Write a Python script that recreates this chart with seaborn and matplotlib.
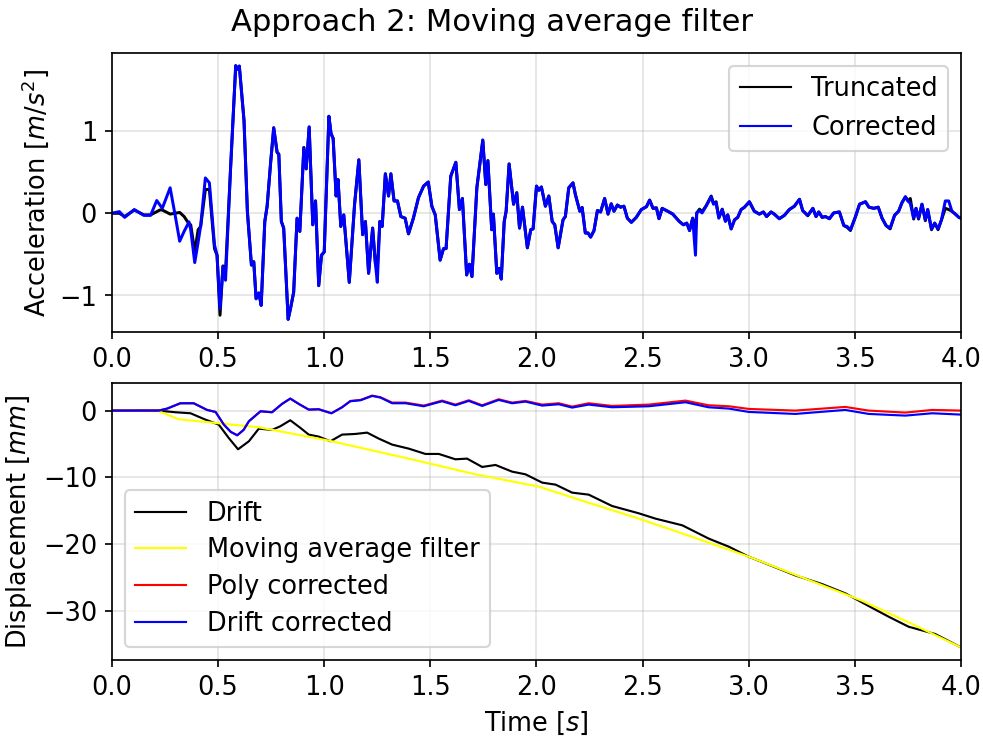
import matplotlib
matplotlib.use("Agg")
import matplotlib.pyplot as plt
import seaborn as sns

# ---------------- acceleration record (m/s^2) ----------------
acc_time = [
    0.000, 0.035, 0.060, 0.105, 0.150, 0.182, 0.211, 0.226, 0.237, 0.252,
    0.274, 0.296, 0.319, 0.340, 0.363, 0.371, 0.390, 0.406, 0.418, 0.440,
    0.459, 0.483, 0.495, 0.509, 0.523, 0.535, 0.559, 0.583, 0.592, 0.600,
    0.622, 0.638, 0.657, 0.668, 0.679, 0.692, 0.703, 0.720, 0.731, 0.747,
    0.762, 0.778, 0.786, 0.798, 0.809, 0.830, 0.841, 0.856, 0.872, 0.885,
    0.904, 0.915, 0.929, 0.946, 0.959, 0.974, 0.987, 1.000, 1.022, 1.032,
    1.042, 1.056, 1.065, 1.078, 1.092, 1.118, 1.143, 1.163, 1.181, 1.194,
    1.209, 1.228, 1.241, 1.250, 1.262, 1.273, 1.288, 1.303, 1.314, 1.329,
    1.345, 1.361, 1.381, 1.397, 1.420, 1.444, 1.468, 1.490, 1.507, 1.523,
    1.546, 1.562, 1.574, 1.596, 1.620, 1.637, 1.651, 1.671, 1.684, 1.696,
    1.719, 1.747, 1.761, 1.771, 1.789, 1.797, 1.813, 1.824, 1.834, 1.848,
    1.857, 1.871, 1.892, 1.907, 1.920, 1.934, 1.957, 1.973, 1.984, 2.000,
    2.011, 2.023, 2.042, 2.058, 2.074, 2.086, 2.102, 2.125, 2.136, 2.152,
    2.172, 2.183, 2.204, 2.215, 2.230, 2.243, 2.255, 2.271, 2.287, 2.302,
    2.321, 2.337, 2.352, 2.365, 2.381, 2.396, 2.412, 2.428, 2.447, 2.470,
    2.494, 2.518, 2.533, 2.549, 2.565, 2.577, 2.592, 2.618, 2.642, 2.673,
    2.692, 2.708, 2.721, 2.736, 2.749, 2.755, 2.768, 2.780, 2.799, 2.823,
    2.834, 2.846, 2.859, 2.875, 2.890, 2.901, 2.917, 2.933, 2.948, 2.964,
    2.980, 3.003, 3.026, 3.050, 3.069, 3.084, 3.105, 3.120, 3.144, 3.168,
    3.191, 3.215, 3.239, 3.254, 3.278, 3.302, 3.317, 3.330, 3.346, 3.361,
    3.380, 3.400, 3.427, 3.448, 3.463, 3.479, 3.503, 3.522, 3.550, 3.566,
    3.589, 3.610, 3.628, 3.647, 3.666, 3.687, 3.706, 3.722, 3.738, 3.750,
    3.761, 3.777, 3.788, 3.800, 3.816, 3.832, 3.843, 3.861, 3.876, 3.892,
    3.908, 3.926, 3.942, 3.957, 3.973, 3.990, 4.000,
]

acc_truncated = [
    0.00, 0.00, -0.04, 0.04, -0.02, -0.02, 0.02, 0.04, 0.04, 0.02,
    -0.01, 0.00, 0.01, -0.04, -0.13, -0.14, -0.47, -0.20, -0.16, 0.29,
    0.29, -0.43, -0.51, -1.24, -0.64, -0.71, 0.56, 1.795, 1.75, 1.79,
    1.13, 0.02, -0.63, -0.59, -1.04, -0.97, -1.12, -0.10, 0.086, 0.60,
    1.04, 0.74, 0.72, -0.10, -0.18, -1.29, -1.16, -0.96, -0.06, -0.22,
    0.80, 0.54, 1.05, -0.14, 0.15, -0.88, -0.51, -0.47, 1.18, 0.97,
    0.91, 0.21, 0.41, -0.16, -0.02, -0.84, 0.11, 0.65, -0.26, -0.10,
    -0.73, -0.18, -0.61, -0.67, -0.10, -0.16, 0.48, 0.21, 0.48, 0.15,
    0.15, -0.04, -0.06, -0.25, -0.06, 0.19, 0.33, 0.38, 0.086, -0.02,
    -0.57, -0.43, -0.43, 0.45, 0.62, 0.045, 0.18, -0.75, -0.62, -0.77,
    0.31, 0.89, 0.35, 0.64, -0.20, -0.01, -0.73, -0.67, -0.80, -0.10,
    0.025, 0.60, 0.11, 0.25, -0.18, 0.074, -0.42, -0.20, -0.19, 0.33,
    0.28, 0.32, 0.086, 0.21, -0.10, -0.14, -0.42, -0.08, -0.04, 0.31,
    0.37, 0.23, 0.025, 0.07, -0.24, -0.24, -0.29, -0.21, 0.033, 0.016,
    0.18, -0.01, 0.115, 0.025, 0.10, 0.074, 0.086, -0.06, -0.11, -0.05,
    0.045, 0.08, 0.16, 0.06, 0.066, -0.066, 0.06, 0.025, -0.01, -0.10,
    -0.14, -0.12, -0.21, -0.06, -0.20, 0.004, 0.05, 0.02, 0.09, 0.21,
    0.12, 0.14, -0.05, 0.05, -0.09, -0.02, -0.19, -0.08, -0.05, 0.045,
    0.074, 0.14, 0.025, -0.01, 0.016, -0.04, 0.016, -0.01, -0.066, -0.025,
    0.045, 0.086, 0.17, 0.033, -0.03, 0.06, -0.04, 0.016, -0.05, -0.04,
    -0.066, 0.004, 0.016, -0.15, -0.17, -0.21, -0.04, 0.11, 0.14, 0.074,
    0.06, 0.074, -0.06, -0.15, -0.19, -0.025, 0.025, 0.13, 0.20, 0.15,
    0.18, -0.07, 0.06, -0.07, 0.11, -0.09, 0.045, -0.20, -0.12, -0.20,
    -0.08, 0.06, 0.045, 0.025, -0.01, -0.05, -0.06,
]

acc_corrected = [
    0.00, 0.02, -0.05, 0.045, -0.025, -0.025, 0.155, 0.10, 0.06, 0.16,
    0.31, 0.00, -0.34, -0.22, -0.105, -0.20, -0.60, -0.35, -0.15, 0.43,
    0.37, -0.385, -0.51, -1.16, -0.65, -0.815, 0.56, 1.795, 1.75, 1.79,
    1.13, 0.02, -0.63, -0.59, -1.04, -0.97, -1.12, -0.10, 0.086, 0.60,
    1.04, 0.74, 0.72, -0.10, -0.18, -1.29, -1.16, -0.96, -0.06, -0.22,
    0.80, 0.54, 1.05, -0.14, 0.15, -0.88, -0.51, -0.47, 1.18, 0.97,
    0.91, 0.21, 0.41, -0.16, -0.02, -0.84, 0.11, 0.65, -0.26, -0.10,
    -0.73, -0.18, -0.61, -0.84, -0.10, -0.16, 0.48, 0.21, 0.48, 0.15,
    0.15, -0.04, -0.06, -0.25, -0.06, 0.19, 0.33, 0.38, 0.086, -0.02,
    -0.57, -0.43, -0.43, 0.45, 0.62, 0.045, 0.18, -0.75, -0.62, -0.77,
    0.31, 0.89, 0.35, 0.64, -0.20, -0.01, -0.73, -0.67, -0.80, -0.10,
    0.025, 0.60, 0.11, 0.25, -0.18, 0.074, -0.42, -0.20, -0.19, 0.33,
    0.28, 0.32, 0.086, 0.21, -0.10, -0.14, -0.42, -0.08, -0.04, 0.31,
    0.37, 0.23, 0.025, 0.07, -0.24, -0.24, -0.29, -0.21, 0.033, 0.016,
    0.18, -0.01, 0.115, 0.025, 0.10, 0.074, 0.086, -0.06, -0.11, -0.05,
    0.045, 0.08, 0.16, 0.06, 0.066, -0.066, 0.06, 0.025, -0.01, -0.10,
    -0.14, -0.12, -0.21, -0.06, -0.51, 0.004, 0.033, 0.004, 0.086, 0.20,
    0.11, 0.13, -0.06, 0.045, -0.10, -0.02, -0.19, -0.08, -0.05, 0.045,
    0.074, 0.14, 0.025, -0.01, 0.016, -0.04, 0.016, -0.01, -0.066, -0.025,
    0.045, 0.086, 0.17, 0.033, -0.025, 0.06, -0.04, 0.016, -0.05, -0.04,
    -0.066, 0.004, 0.016, -0.15, -0.16, -0.20, -0.04, 0.11, 0.14, 0.074,
    0.06, 0.074, -0.06, -0.15, -0.18, -0.025, 0.025, 0.13, 0.20, 0.15,
    0.12, -0.06, 0.06, -0.06, 0.11, -0.08, 0.045, -0.19, -0.12, -0.19,
    -0.08, 0.15, 0.15, 0.025, -0.01, -0.05, -0.06,
]

# ---------------- displacement (mm) ----------------
drift_time = [
    0.000, 0.220, 0.299, 0.370, 0.440, 0.503, 0.550, 0.594, 0.645, 0.692,
    0.754, 0.793, 0.840, 0.888, 0.927, 0.974, 1.029, 1.084, 1.147, 1.202,
    1.257, 1.320, 1.398, 1.477, 1.540, 1.618, 1.673, 1.744, 1.807, 1.885,
    1.948, 2.027, 2.090, 2.168, 2.246, 2.356, 2.482, 2.561, 2.687, 2.812,
    2.906, 3.000, 3.219, 3.345, 3.455, 3.565, 3.659, 3.753, 3.879, 4.000,
]
drift = [
    0.0, 0.0, -0.25, -0.4, -1.35, -2.1, -4.1, -5.8, -4.6, -2.7,
    -2.9, -2.35, -1.45, -2.6, -3.6, -3.9, -4.6, -3.6, -3.5, -3.3,
    -4.2, -5.1, -5.7, -6.5, -6.5, -7.3, -7.2, -8.45, -8.15, -9.15,
    -9.55, -10.8, -11.1, -12.3, -12.6, -14.3, -15.4, -16.2, -17.2, -19.2,
    -20.4, -21.9, -24.7, -26.0, -27.4, -29.3, -30.9, -32.4, -33.5, -35.5,
]

ma_time = [
    0.000, 0.220, 0.314, 0.456, 0.692, 1.021, 1.398, 1.712, 2.011, 2.215,
    2.482, 2.749, 3.000, 3.267, 3.533, 3.770, 4.000,
]
moving_average = [
    0.0, -0.1, -1.3, -1.75, -2.5, -4.5, -7.2, -9.55, -11.4, -13.5,
    -16.2, -19.1, -21.9, -25.2, -28.5, -32.0, -35.5,
]

corr_time = [
    0.000, 0.220, 0.260, 0.322, 0.385, 0.448, 0.488, 0.527, 0.560, 0.590,
    0.620, 0.645, 0.700, 0.754, 0.801, 0.840, 0.880, 0.927, 0.974, 1.034,
    1.084, 1.123, 1.171, 1.226, 1.265, 1.320, 1.383, 1.469, 1.555, 1.618,
    1.681, 1.744, 1.822, 1.885, 1.948, 2.027, 2.105, 2.168, 2.246, 2.356,
    2.529, 2.702, 2.810, 2.906, 3.000, 3.219, 3.455, 3.565, 3.738, 3.864,
    4.000,
]
poly_corrected = [
    0.0, 0.0, 0.3, 1.1, 1.1, 0.1, -0.2, -2.1, -3.2, -3.7,
    -2.9, -1.6, -0.1, -0.25, 1.0, 1.8, 1.0, 0.15, 0.2, -0.4,
    0.5, 1.45, 1.6, 2.25, 2.0, 1.2, 1.2, 0.75, 1.5, 0.9,
    1.55, 0.8, 1.7, 1.2, 1.45, 0.9, 1.1, 0.6, 1.1, 0.7,
    0.9, 1.5, 0.8, 0.65, 0.25, 0.0, 0.55, 0.0, -0.3, 0.1,
    0.0,
]
drift_corrected = [
    0.0, 0.0, 0.3, 1.1, 1.1, 0.1, -0.2, -2.1, -3.2, -3.7,
    -2.9, -1.6, -0.1, -0.25, 1.0, 1.8, 1.0, 0.15, 0.2, -0.4,
    0.5, 1.4, 1.55, 2.2, 1.95, 1.1, 1.1, 0.65, 1.4, 0.8,
    1.45, 0.7, 1.6, 1.1, 1.35, 0.75, 0.95, 0.45, 0.9, 0.5,
    0.65, 1.25, 0.5, 0.3, -0.2, -0.5, 0.1, -0.5, -0.75, -0.4,
    -0.6,
]

plt.rcParams.update({"font.size": 12})

fig = plt.figure(figsize=(6.4, 4.805), dpi=153.6)
ax_acc = fig.add_axes([0.1139, 0.5501, 0.8637, 0.3780])
ax_disp = fig.add_axes([0.1139, 0.1057, 0.8637, 0.3753])

# acceleration traces: dense record, drawn a little heavier
acc_kw = dict(estimator=None, sort=False, linewidth=1.4)
sns.lineplot(x=acc_time, y=acc_truncated, color="black", label="Truncated", ax=ax_acc, **acc_kw)
sns.lineplot(x=acc_time, y=acc_corrected, color="blue", label="Corrected", ax=ax_acc, **acc_kw)
ax_acc.set_xlim(0, 4)
ax_acc.set_ylabel("Acceleration [$m/s^2$]")
ax_acc.set_xlabel("")
ax_acc.grid(True, alpha=0.35)
leg_acc = ax_acc.legend(loc="upper right")
for h in leg_acc.get_lines():
    h.set_linewidth(1.0)

disp_kw = dict(estimator=None, sort=False, linewidth=1.0)
sns.lineplot(x=drift_time, y=drift, color="black", label="Drift", ax=ax_disp, **disp_kw)
sns.lineplot(x=ma_time, y=moving_average, color="yellow", label="Moving average filter", ax=ax_disp, **disp_kw)
sns.lineplot(x=corr_time, y=poly_corrected, color="red", label="Poly corrected", ax=ax_disp, **disp_kw)
sns.lineplot(x=corr_time, y=drift_corrected, color="blue", label="Drift corrected", ax=ax_disp, **disp_kw)
ax_disp.set_xlim(0, 4)
ax_disp.set_xlabel("Time [$s$]")
ax_disp.set_ylabel("Displacement [$mm$]")
ax_disp.grid(True, alpha=0.35)
ax_disp.legend(loc="lower left", labelspacing=0.42)

fig.suptitle("Approach 2: Moving average filter", y=0.970, va="center", fontsize=14.4)

fig.savefig("out.png", dpi=153.6)
